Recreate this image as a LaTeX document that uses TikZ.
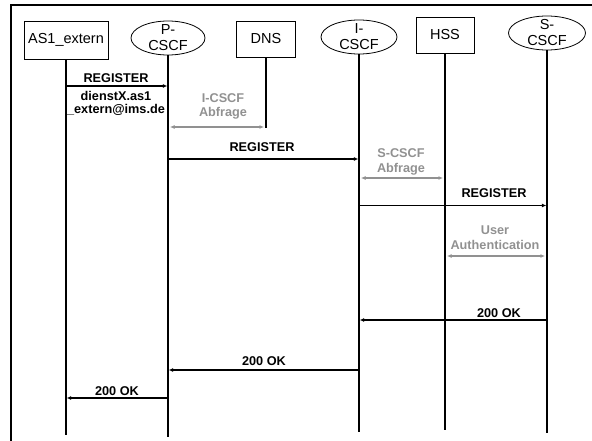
\documentclass[tikz,border=0pt]{standalone}
\usepackage{fontspec}
\setmainfont{Liberation Sans}
\usetikzlibrary{shapes.geometric,arrows.meta}
\definecolor{qgray}{RGB}{145,145,145}
\begin{document}
\begin{tikzpicture}[x=1pt,y=-1pt,
  hdrbox/.style={draw,line width=0.8pt,rectangle,inner sep=0pt,font=\fontsize{14.5}{16}\selectfont},
  hdrell/.style={draw,line width=0.8pt,ellipse,inner sep=0pt},
  hdrtxt/.style={font=\fontsize{14.5}{16}\selectfont,align=center,inner sep=0pt},
  life/.style={line width=1.4pt},
  msg/.style={line width=1.3pt,-{Latex[length=4.5pt,width=4pt]},shorten >=0.7pt},
  qry/.style={line width=1.3pt,draw=qgray,{Latex[length=4.5pt,width=4pt]}-{Latex[length=4.5pt,width=4pt]},shorten >=2pt,shorten <=2pt},
  lbl/.style={font=\fontsize{12.7}{13}\selectfont\bfseries,align=center,inner sep=0pt},
  glbl/.style={lbl,text=qgray,font=\fontsize{12.7}{15}\selectfont\bfseries}]

\useasboundingbox (0,0) rectangle (592,441);
\draw[line width=2pt] (592,5) -- (11,5) -- (11,441);

% headers
\node[hdrbox,minimum width=84pt,minimum height=38pt] (as) at (66,40) {AS1\_extern};
\node[hdrell,minimum width=74pt,minimum height=34pt] (pc) at (168,38) {};
\node[hdrtxt] (pct) at (168,38) {P-\\CSCF};
\node[hdrbox,minimum width=59pt,minimum height=36pt] (dns) at (266,39) {DNS};
\node[hdrell,minimum width=76pt,minimum height=34pt] (ic) at (359,37) {};
\node[hdrtxt] (ict) at (359,37) {I-\\CSCF};
\node[hdrbox,minimum width=58pt,minimum height=36pt] (hss) at (445,35) {HSS};
\node[hdrell,minimum width=77pt,minimum height=34pt] (sc) at (547,33) {};
\node[hdrtxt] (sct) at (547,33) {S-\\CSCF};

% lifeline ends
\coordinate (asE) at (66,435);
\coordinate (pcE) at (168,437);
\coordinate (dnsE) at (266,128);
\coordinate (icE) at (359,432);
\coordinate (hssE) at (445,430);
\coordinate (scE) at (547,433);

\draw[life] (as.south) -- (asE);
\draw[life] (pc.south) -- (pcE);
\draw[life] (dns.south) -- (dnsE);
\draw[life] (ic.south) -- (icE);
\draw[life] (hss.south) -- (hssE);
\draw[life] (sc.south) -- (scE);

% message levels
\coordinate (y1) at (0,86);
\coordinate (y2) at (0,127);
\coordinate (y3) at (0,159);
\coordinate (y4) at (0,178);
\coordinate (y5) at (0,205.5);
\coordinate (y6) at (0,256);
\coordinate (y7) at (0,320);
\coordinate (y8) at (0,370);
\coordinate (y9) at (0,398);

\draw[msg] (as |- y1) -- (pc |- y1);
\draw[qry] (pc |- y2) -- (dns |- y2);
\draw[msg] (pc |- y3) -- (ic |- y3);
\draw[qry] (ic |- y4) -- (hss |- y4);
\draw[msg] (ic |- y5) -- (sc |- y5);
\draw[qry] (hss |- y6) -- (sc |- y6);
\draw[msg] (sc |- y7) -- (ic |- y7);
\draw[msg] (ic |- y8) -- (pc |- y8);
\draw[msg] (pc |- y9) -- (as |- y9);

% labels
\node[lbl] (l1) at (116,78) {REGISTER};
\node[lbl] (l1b) at (116,103.9) {dienstX.as1\\\_extern@ims.de};
\node[glbl,font=\fontsize{12.7}{14}\selectfont\bfseries] (q1) at (223,106.4) {I-CSCF\\Abfrage};
\node[lbl] (l2) at (262,147) {REGISTER};
\node[glbl] (q2) at (401,161.8) {S-CSCF\\Abfrage};
\node[lbl] (l3) at (494,193) {REGISTER};
\node[glbl] (q3) at (495,237.5) {User\\Authentication};
\node[lbl] (l4) at (499,313) {200 OK};
\node[lbl] (l5) at (264,361) {200 OK};
\node[lbl] (l6) at (117,391) {200 OK};
\end{tikzpicture}
\end{document}
